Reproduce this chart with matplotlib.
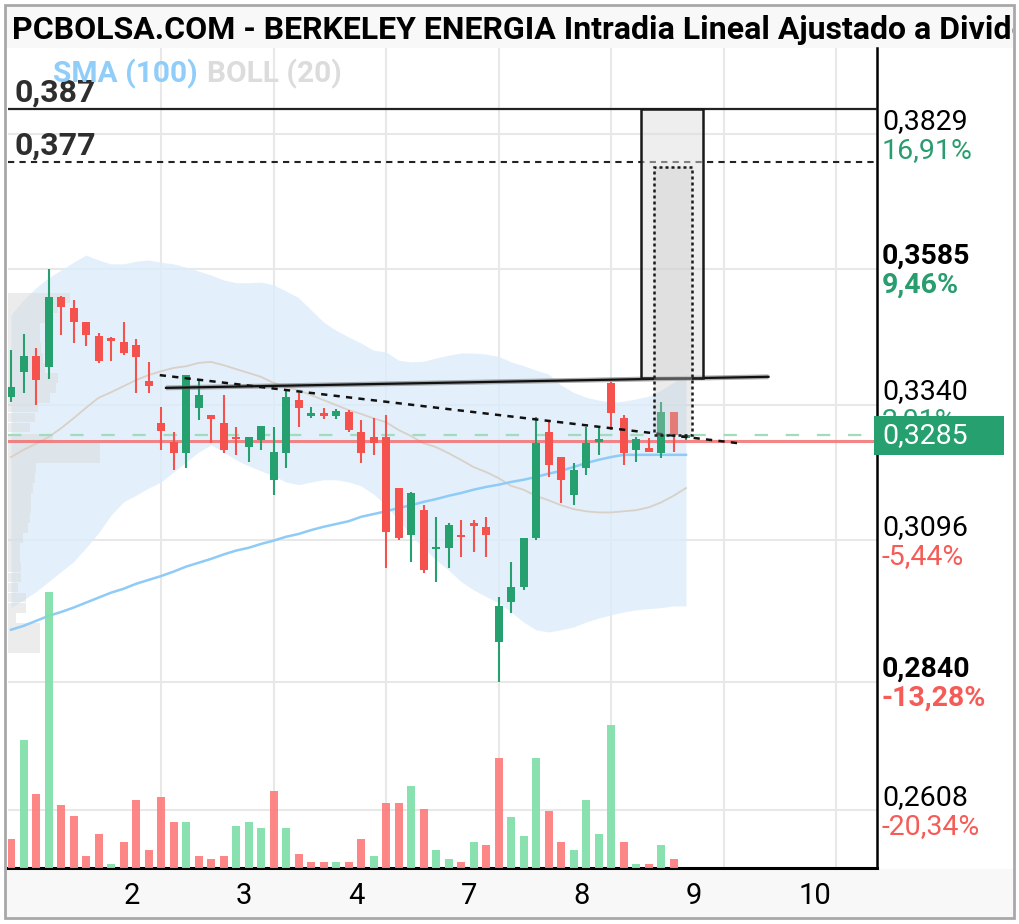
"""Berkeley Energia hourly candles (PCBOLSA style), rebuilt with matplotlib."""

import matplotlib.pyplot as plt
import numpy as np
from matplotlib.patches import Rectangle
from matplotlib.transforms import blended_transform_factory, offset_copy

plt.rcParams["font.family"] = ["Roboto", "DejaVu Sans"]

# ---------------------------------------------------------------- data ----
opens = [0.3355, 0.3400, 0.3429, 0.3409, 0.3535, 0.3515, 0.3490, 0.3465, 0.3461, 0.3454,
         0.3449, 0.3383, 0.3308, 0.3273, 0.3253, 0.3335, 0.3322, 0.3308, 0.3282, 0.3264,
         0.3277, 0.3205, 0.3253, 0.3349, 0.3320, 0.3326, 0.3320, 0.3327, 0.3291, 0.3282,
         0.3282, 0.3190, 0.3105, 0.3150, 0.3080, 0.3082, 0.3105, 0.3127, 0.3120, 0.2912,
         0.2984, 0.3011, 0.3100, 0.3291, 0.3246, 0.3178, 0.3226, 0.3273, 0.3380, 0.3317,
         0.3259, 0.3262, 0.3253, 0.3327, 0.3280]
highs = [0.3440, 0.3468, 0.3443, 0.3585, 0.3537, 0.3530, 0.3490, 0.3470, 0.3463, 0.3490,
         0.3459, 0.3418, 0.3337, 0.3291, 0.3394, 0.3385, 0.3322, 0.3358, 0.3300, 0.3282,
         0.3302, 0.3300, 0.3369, 0.3362, 0.3337, 0.3335, 0.3333, 0.3331, 0.3313, 0.3317,
         0.3322, 0.3190, 0.3183, 0.3159, 0.3138, 0.3127, 0.3132, 0.3132, 0.3138, 0.2993,
         0.3056, 0.3100, 0.3318, 0.3309, 0.3246, 0.3235, 0.3300, 0.3299, 0.3382, 0.3322,
         0.3282, 0.3281, 0.3346, 0.3327, 0.3287]
lows = [0.3346, 0.3362, 0.3340, 0.3387, 0.3467, 0.3452, 0.3447, 0.3416, 0.3420, 0.3430,
        0.3362, 0.3362, 0.3259, 0.3223, 0.3226, 0.3313, 0.3271, 0.3253, 0.3250, 0.3237,
        0.3259, 0.3178, 0.3226, 0.3300, 0.3317, 0.3315, 0.3315, 0.3291, 0.3235, 0.3250,
        0.3046, 0.3096, 0.3056, 0.3037, 0.3020, 0.3046, 0.3066, 0.3075, 0.3066, 0.2840,
        0.2964, 0.3006, 0.3096, 0.3210, 0.3163, 0.3159, 0.3214, 0.3250, 0.3295, 0.3232,
        0.3237, 0.3255, 0.3244, 0.3255, 0.3277]
closes = [0.3373, 0.3429, 0.3385, 0.3535, 0.3517, 0.3490, 0.3467, 0.3420, 0.3456, 0.3434,
          0.3427, 0.3374, 0.3293, 0.3253, 0.3394, 0.3358, 0.3315, 0.3259, 0.3279, 0.3282,
          0.3302, 0.3255, 0.3355, 0.3335, 0.3326, 0.3320, 0.3329, 0.3295, 0.3253, 0.3271,
          0.3111, 0.3100, 0.3181, 0.3042, 0.3084, 0.3123, 0.3102, 0.3122, 0.3105, 0.2977,
          0.3011, 0.3100, 0.3271, 0.3232, 0.3205, 0.3223, 0.3271, 0.3279, 0.3326, 0.3253,
          0.3279, 0.3255, 0.3327, 0.3286, 0.3285]
# volume per hour, thousands of shares
volumes = [145, 640, 370, 1380, 315, 260, 60, 170, 20, 130,
           340, 90, 355, 230, 230, 60, 45, 60, 210, 230,
           200, 385, 200, 70, 30, 30, 30, 30, 145, 60,
           325, 325, 410, 295, 90, 45, 30, 130, 115, 550,
           255, 160, 550, 285, 130, 90, 340, 170, 715, 130,
           20, 20, 115, 45, 0]

boll_upper = [0.3503, 0.3530, 0.3552, 0.3570, 0.3584, 0.3598, 0.3611, 0.3602, 0.3595, 0.3595,
              0.3600, 0.3602, 0.3598, 0.3595, 0.3589, 0.3582, 0.3575, 0.3566, 0.3561, 0.3561,
              0.3562, 0.3557, 0.3546, 0.3534, 0.3512, 0.3490, 0.3475, 0.3463, 0.3452, 0.3439,
              0.3436, 0.3421, 0.3418, 0.3419, 0.3425, 0.3430, 0.3434, 0.3434, 0.3432, 0.3428,
              0.3418, 0.3411, 0.3403, 0.3396, 0.3376, 0.3363, 0.3354, 0.3349, 0.3345, 0.3347,
              0.3351, 0.3356, 0.3367, 0.3381, 0.3394]
boll_mid = [0.3246, 0.3259, 0.3270, 0.3282, 0.3298, 0.3316, 0.3335, 0.3353, 0.3363, 0.3374,
            0.3385, 0.3394, 0.3401, 0.3407, 0.3410, 0.3416, 0.3418, 0.3412, 0.3405, 0.3398,
            0.3391, 0.3380, 0.3373, 0.3367, 0.3358, 0.3349, 0.3340, 0.3331, 0.3324, 0.3316,
            0.3309, 0.3295, 0.3284, 0.3271, 0.3264, 0.3253, 0.3241, 0.3228, 0.3219, 0.3208,
            0.3194, 0.3187, 0.3176, 0.3168, 0.3159, 0.3152, 0.3148, 0.3146, 0.3146, 0.3148,
            0.3150, 0.3155, 0.3164, 0.3176, 0.3190]
boll_lower = [0.2974, 0.2988, 0.3003, 0.3021, 0.3039, 0.3057, 0.3082, 0.3109, 0.3141, 0.3165,
              0.3177, 0.3190, 0.3201, 0.3219, 0.3237, 0.3255, 0.3268, 0.3255, 0.3241, 0.3230,
              0.3221, 0.3212, 0.3201, 0.3196, 0.3201, 0.3205, 0.3205, 0.3201, 0.3194, 0.3179,
              0.3159, 0.3132, 0.3105, 0.3082, 0.3060, 0.3042, 0.3021, 0.3006, 0.2994, 0.2983,
              0.2966, 0.2948, 0.2934, 0.2930, 0.2934, 0.2939, 0.2948, 0.2955, 0.2961, 0.2966,
              0.2970, 0.2972, 0.2974, 0.2977, 0.2977]
sma100 = [0.2934, 0.2941, 0.2950, 0.2959, 0.2966, 0.2974, 0.2983, 0.2992, 0.3001, 0.3008,
          0.3017, 0.3024, 0.3031, 0.3039, 0.3048, 0.3055, 0.3062, 0.3070, 0.3077, 0.3082,
          0.3089, 0.3095, 0.3102, 0.3107, 0.3114, 0.3120, 0.3125, 0.3130, 0.3138, 0.3143,
          0.3148, 0.3154, 0.3159, 0.3165, 0.3170, 0.3176, 0.3181, 0.3187, 0.3192, 0.3196,
          0.3201, 0.3205, 0.3210, 0.3216, 0.3221, 0.3228, 0.3235, 0.3241, 0.3246, 0.3250,
          0.3250, 0.3250, 0.3250, 0.3250, 0.3250]

# volume-at-price profile (left side)
profile_prices = [0.3533, 0.3515, 0.3497, 0.3479, 0.3461, 0.3443, 0.3425, 0.3407, 0.3389,
                  0.3371, 0.3353, 0.3335, 0.3317, 0.3299, 0.3280, 0.3262, 0.3244, 0.3226,
                  0.3208, 0.3190, 0.3172, 0.3154, 0.3136, 0.3118, 0.3100, 0.3082, 0.3064,
                  0.3046, 0.3028, 0.3010, 0.2992, 0.2973, 0.2955, 0.2937, 0.2919, 0.2901]
profile_volumes = [620, 500, 400, 320, 320, 330, 350, 370, 500, 480, 420, 300, 270, 220,
                   450, 920, 920, 280, 270, 250, 230, 230, 220, 200, 150, 120, 120, 130,
                   130, 100, 180, 180, 80, 320, 320, 320]

day_labels = ["2", "3", "4", "7", "8", "9", "10"]
day_label_pos = [9, 18, 27, 36, 45, 54, 63]
day_grid_pos = [12, 21, 30, 39, 48, 57, 66]

level_values = [0.3829, 0.3585, 0.3340, 0.3096, 0.2840, 0.2608]
level_texts = ["0,3829", "0,3585", "0,3340", "0,3096", "0,2840", "0,2608"]
level_pcts = ["16,91%", "9,46%", "2,01%", "-5,44%", "-13,28%", "-20,34%"]
level_bold = [False, True, False, False, True, False]

last_price = 0.3285
prev_close = 0.3275
resist_hi, resist_hi_txt = 0.3875, "0,387"
resist_lo, resist_lo_txt = 0.3779, "0,377"

trend_solid_x, trend_solid_y = [12.4, 60.6], [0.3371, 0.3391]
trend_dash_x, trend_dash_y = [11.9, 58.2], [0.3394, 0.3271]
box_outer = (50.4, 55.36, 0.3389, 0.3875)   # x0, x1, y0, y1
box_inner = (51.44, 54.48, 0.3286, 0.3770)

# --------------------------------------------------------------- style ----
W, H = 1020, 924
GREEN, RED = "#26a06e", "#f6524d"
VGREEN, VRED = "#82e0aa", "#fd8080"
TXT_GREEN, TXT_RED = "#2a9d6f", "#f55b57"
GRID = "#e8e8e8"

fig = plt.figure(figsize=(W / 100, H / 100), dpi=100)

# page frame, title bar, bottom strip
fig.patches.append(Rectangle((6 / W, 1 - 917 / H), 1007 / W, 48 / H, transform=fig.transFigure,
                             fc="#f8f8f8", ec="none", zorder=-1))
fig.patches.append(Rectangle((5 / W, 1 - 918 / H), 1009 / W, 913 / H, transform=fig.transFigure,
                             fill=False, ec="#a8a8a8", lw=2, zorder=10))

ax_t = fig.add_axes([6 / W, 1 - 48 / H, 1007 / W, 42 / H])
ax_t.set_facecolor("#f8f8f8")
ax_t.set_xticks([])
ax_t.set_yticks([])
for s in ax_t.spines.values():
    s.set_visible(False)
ax_t.text(0.006, 0.21, "PCBOLSA.COM - BERKELEY ENERGIA Intradia Lineal Ajustado a Dividendos",
          transform=ax_t.transAxes, fontsize=23, fontweight="bold", color="black",
          va="baseline", ha="left", clip_on=True)

rect = [8 / W, 1 - 868 / H, 869 / W, 820 / H]
ax = fig.add_axes(rect)
ax.set_xlim(-0.24, 69.28)
ax.set_ylim(0.25036, 0.39850)
ax.set_xticks([])
ax.set_yticks([])
for side in ("top", "left"):
    ax.spines[side].set_visible(False)
ax.spines["right"].set_linewidth(1.8)
ax.spines["bottom"].set_linewidth(2.2)
ax.spines["right"].set_color("black")
ax.spines["bottom"].set_color("black")

# grid
for v in level_values:
    ax.axhline(v, color=GRID, lw=1.5, zorder=0.5)
for g in day_grid_pos:
    ax.axvline(g, color=GRID, lw=1.5, zorder=0.5)

idx = np.arange(len(closes))
o, h, l, c = (np.array(a) for a in (opens, highs, lows, closes))

# Bollinger band + SMA
ax.fill_between(idx, boll_lower, boll_upper, color="#dcedfb", alpha=0.8, lw=0, zorder=1)
ax.plot(idx, boll_mid, color="#d9d0c7", lw=1.3, zorder=2)
ax.plot(idx, sma100, color="#8ecbf6", lw=1.8, zorder=2)

# volume profile
ax.barh(profile_prices, np.array(profile_volumes) / 125.0, left=-0.24, height=0.0017,
        color="#d6d6d6", alpha=0.45, lw=0, zorder=1.5)

# reference lines
ax.axhline(prev_close, color="#f27070", lw=2.2, alpha=0.85, zorder=2.5)
ax.axhline(last_price, color="#a3dbbd", lw=1.6, ls=(0, (6, 8)), zorder=2.5)
ax.axhline(resist_hi, color="#222222", lw=1.6, zorder=5)
ax.axhline(resist_lo, color="#222222", lw=1.5, ls=(0, (3, 2.5)), zorder=5)

# candles
up = c >= o
ccol = np.where(up, GREEN, RED)
ax.vlines(idx, l, h, colors=ccol, lw=1.5, zorder=4)
ax.bar(idx, np.maximum(np.abs(c - o), 0.00025), bottom=np.minimum(o, c), width=0.64,
       color=ccol, lw=0, zorder=4)

# trend lines
ax.plot(trend_solid_x, trend_solid_y, color="#777777", lw=3.5, alpha=0.6,
        solid_capstyle="butt", zorder=5)
ax.plot(trend_solid_x, trend_solid_y, color="#111111", lw=1.6, zorder=5)
ax.plot(trend_dash_x, trend_dash_y, color="#111111", lw=1.8, ls=(0, (2.5, 2.5)), zorder=5)

# projection boxes
x0, x1, y0, y1 = box_outer
ax.add_patch(Rectangle((x0, y0), x1 - x0, y1 - y0, fc="#dedede", alpha=0.5, ec="none", zorder=5))
ax.add_patch(Rectangle((x0, y0), x1 - x0, y1 - y0, fill=False, ec="#1a1a1a", lw=1.8, zorder=5))
x0, x1, y0, y1 = box_inner
ax.add_patch(Rectangle((x0, y0), x1 - x0, y1 - y0, fc="#c8c8c8", alpha=0.35, ec="none", zorder=5))
ax.add_patch(Rectangle((x0, y0), x1 - x0, y1 - y0, fill=False, ec="#1a1a1a", lw=1.8,
                       ls=(0, (1.2, 1.2)), zorder=5))

# resistance labels
lab_tr = offset_copy(ax.transData, fig=fig, x=0, y=7, units="dots")
ax.text(0.32, resist_hi, resist_hi_txt, transform=lab_tr, fontsize=23, fontweight="bold",
        color="#2e2e2e", va="baseline", ha="left", zorder=6)
ax.text(0.32, resist_lo, resist_lo_txt, transform=lab_tr, fontsize=23, fontweight="bold",
        color="#2e2e2e", va="baseline", ha="left", zorder=6)

# indicator legend
fig.text(53 / W, 1 - 82 / H, "SMA (100)", fontsize=21.5, fontweight="bold", color="#90cdf9",
         va="baseline", ha="left", zorder=7)
fig.text(207 / W, 1 - 82 / H, "BOLL (20)", fontsize=21.5, fontweight="bold", color="#dcdcdc",
         va="baseline", ha="left", zorder=7)

# right-hand price levels
ytr = blended_transform_factory(ax.transAxes, ax.transData)
val_tr = offset_copy(ytr, fig=fig, x=0, y=13, units="dots")
pct_tr = offset_copy(ytr, fig=fig, x=0, y=-16, units="dots")
xr = (882 - 8) / 869
for v, t, p, b in zip(level_values, level_texts, level_pcts, level_bold):
    w = "bold" if b else "normal"
    ax.text(xr, v, t, transform=val_tr, fontsize=20.5, fontweight=w, color="black",
            va="center", ha="left", clip_on=False, zorder=6)
    ax.text(xr, v, p, transform=pct_tr, fontsize=20.5, fontweight=w,
            color=TXT_RED if p.startswith("-") else TXT_GREEN,
            va="center", ha="left", clip_on=False, zorder=6)

# last price tag
tag_h = 0.00705
ax.add_patch(Rectangle(((874 - 8) / 869, last_price - tag_h / 2), 130 / 869, tag_h,
                       transform=ytr, fc="#27a06f", ec="none", clip_on=False, zorder=7))
ax.text(xr, last_price, "0,3285", transform=ytr, fontsize=20.5, color="white",
        va="center", ha="left", clip_on=False, zorder=8)

# day labels
xtr = blended_transform_factory(ax.transData, ax.transAxes)
for pos, lab in zip(day_label_pos, day_labels):
    ax.text(pos, -0.034, lab, transform=xtr, fontsize=21, color="black",
            va="center", ha="left", clip_on=False, zorder=6)

# volume bars (own y scale, same x)
ax_v = fig.add_axes(rect)
ax_v.set_xlim(ax.get_xlim())
ax_v.set_ylim(0, 4100)
ax_v.axis("off")
vol_up = np.r_[False, c[1:] >= c[:-1]]
ax_v.bar(idx, volumes, width=0.64, color=np.where(vol_up, VGREEN, VRED), lw=0, alpha=0.95)

fig.savefig("out.png", dpi=100)
